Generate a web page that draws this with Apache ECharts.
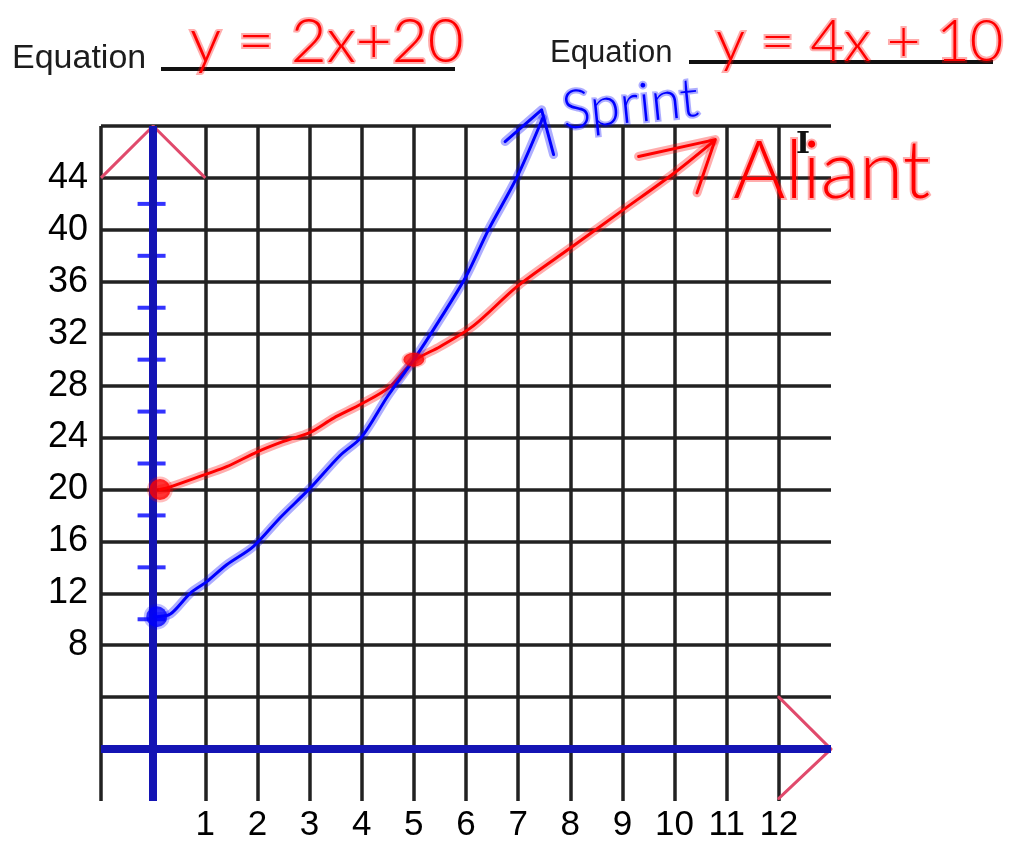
<!DOCTYPE html>
<html>
<head>
<meta charset="utf-8">
<title>Sprint vs Aliant</title>
<script src="https://cdn.jsdelivr.net/npm/echarts@6/dist/echarts.min.js"></script>
<style>
html, body { margin: 0; padding: 0; background: #fff; }
#main { width: 1010px; height: 843px; }
</style>
</head>
<body>
<div id="main"></div>
<script>
// tick labels
var xLabels = [1, 2, 3, 4, 5, 6, 7, 8, 9, 10, 11, 12];
var yLabels = [8, 12, 16, 20, 24, 28, 32, 36, 40, 44];
// little blue dashes drawn on the y axis
var dashY = [42, 38, 34, 30, 26, 22, 18, 14, 10];

// Sprint (blue, y = 4x + 10)
var sprintX = [0.07, 0.33, 0.71, 1.03, 1.41, 1.92, 2.43, 3.01, 3.58, 4, 4.5, 5, 5.5, 6, 6.43, 6.97, 7.47];
var sprintY = [10.2, 10.4, 12.0, 12.9, 14.2, 15.6, 17.8, 20.1, 22.6, 24.05, 27.2, 30, 33.1, 36.4, 40, 44, 48.6];
var sprintArrowX = [6.75, 7.45, 7.68];
var sprintArrowY = [46.8, 49.25, 45.8];

// Aliant (red, y = 2x + 20)
var aliantX = [0.13, 0.33, 1.03, 1.41, 2, 2.5, 3.01, 3.46, 4, 4.54, 5, 5.5, 6.14, 7, 8, 9, 10, 10.74];
var aliantY = [20, 20.2, 21.2, 21.75, 22.9, 23.7, 24.4, 25.5, 26.6, 27.9, 29.9, 31.0, 32.6, 35.7, 38.6, 41.5, 44.4, 46.8];
var aliantArrowX = [9.31, 10.78, 10.43];
var aliantArrowY = [45.65, 46.95, 42.85];

// start dots and the crossing dot
var sprintStart = [0.07, 10.2];
var aliantStart = [0.13, 20];
var crossPoint = [5, 30];

// pink chevrons at the ends of the axes
var yChevronX = [-1, 0, 1];
var yChevronY = [44, 48, 44];
var xChevronX = [12, 13, 12];
var xChevronY = [4, 0, -3.8];

function pairs(xs, ys) {
    return xs.map(function (x, i) { return [x, ys[i]]; });
}

var RED = '#ff0000';
var RED_HALO = 'rgba(255,0,0,0.32)';
var BLUE = '#0000ff';
var BLUE_HALO = 'rgba(0,0,255,0.32)';
var PINK = '#e04a6c';
var FONT = '"Liberation Sans", Arial, sans-serif';
var HAND = 'Lato, "Liberation Sans", sans-serif';

function stroke(name, data, color, width, z, smooth) {
    return {
        name: name,
        type: 'line',
        data: data,
        symbol: 'none',
        smooth: smooth || false,
        clip: false,
        silent: true,
        z: z,
        lineStyle: { color: color, width: width, cap: 'round', join: 'round' }
    };
}

var myChart = echarts.init(document.getElementById('main'));

var option = {
    backgroundColor: '#ffffff',
    animation: false,
    grid: { left: 101, top: 126, width: 730, height: 678 },
    xAxis: {
        type: 'value',
        min: -1,
        max: 13,
        interval: 1,
        axisLine: { show: false },
        axisTick: { show: false },
        axisLabel: {
            margin: 7,
            fontSize: 35,
            fontFamily: FONT,
            color: '#000',
            formatter: function (v) { return xLabels.indexOf(v) >= 0 ? String(v) : ''; }
        },
        splitLine: {
            show: true,
            showMaxLine: false,
            lineStyle: { color: '#222', width: 3.5 }
        }
    },
    yAxis: {
        type: 'value',
        min: -4,
        max: 48,
        interval: 4,
        axisLine: { show: false },
        axisTick: { show: false },
        axisLabel: {
            margin: 13,
            fontSize: 36,
            fontFamily: FONT,
            color: '#000',
            formatter: function (v) { return yLabels.indexOf(v) >= 0 ? String(v) : ''; }
        },
        splitLine: {
            show: true,
            showMinLine: false,
            lineStyle: { color: '#222', width: 3.5 }
        }
    },
    series: [
        // pink chevrons + the thick blue axes
        {
            type: 'line',
            data: pairs(yChevronX, yChevronY),
            symbol: 'none',
            clip: false,
            silent: true,
            z: 3,
            lineStyle: { color: PINK, width: 3 },
            markLine: {
                silent: true,
                symbol: 'none',
                label: { show: false },
                lineStyle: { color: '#1414b4', width: 8, type: 'solid', opacity: 1 },
                data: [{ xAxis: 0 }, { yAxis: 0 }]
            }
        },
        stroke('xChevron', pairs(xChevronX, xChevronY), PINK, 3, 3),
        // blue dashes on the y axis
        {
            type: 'scatter',
            data: dashY.map(function (y) { return [-0.03, y]; }),
            symbol: 'rect',
            symbolSize: [28, 4],
            silent: true,
            z: 4,
            itemStyle: { color: BLUE }
        },
        // Aliant halo + line
        stroke('aliantHalo', pairs(aliantX, aliantY), RED_HALO, 9, 5, 0.3),
        stroke('Aliant', pairs(aliantX, aliantY), RED, 3, 6, 0.3),
        stroke('aliantArrowHalo', pairs(aliantArrowX, aliantArrowY), RED_HALO, 9, 5),
        stroke('aliantArrow', pairs(aliantArrowX, aliantArrowY), RED, 3, 6),
        // Sprint halo + line
        stroke('sprintHalo', pairs(sprintX, sprintY), BLUE_HALO, 9, 7, 0.3),
        stroke('Sprint', pairs(sprintX, sprintY), BLUE, 3, 8, 0.3),
        stroke('sprintArrowHalo', pairs(sprintArrowX, sprintArrowY), BLUE_HALO, 9, 7),
        stroke('sprintArrow', pairs(sprintArrowX, sprintArrowY), BLUE, 3, 8),
        // dots
        {
            type: 'scatter',
            data: [aliantStart],
            symbol: 'circle',
            symbolSize: 21,
            silent: true,
            z: 9,
            itemStyle: { color: RED, borderColor: RED_HALO, borderWidth: 5 }
        },
        {
            type: 'scatter',
            data: [sprintStart],
            symbol: 'circle',
            symbolSize: 21,
            silent: true,
            z: 9,
            itemStyle: { color: BLUE, borderColor: BLUE_HALO, borderWidth: 5 }
        },
        {
            type: 'scatter',
            data: [crossPoint],
            symbol: 'circle',
            symbolSize: [21, 14],
            silent: true,
            z: 9,
            itemStyle: { color: RED, borderColor: RED_HALO, borderWidth: 3 }
        }
    ],
    graphic: [
        { type: 'text', left: 12, top: 42, style: { text: 'Equation', font: '34px ' + FONT, fill: '#1c1c1c' } },
        { type: 'line', shape: { x1: 161, y1: 69, x2: 455, y2: 69 }, style: { stroke: '#111', lineWidth: 4 } },
        { type: 'text', left: 550, top: 38, style: { text: 'Equation', font: '31px ' + FONT, fill: '#1c1c1c' } },
        { type: 'line', shape: { x1: 689, y1: 62, x2: 993, y2: 62 }, style: { stroke: '#111', lineWidth: 4 } },
        // the hand written parts
        {
            type: 'text', x: 190, y: 42, z: 20,
            style: { text: 'y = 2x+20', font: '300 62px ' + HAND, fill: RED, stroke: RED_HALO, lineWidth: 4, verticalAlign: 'middle' }
        },
        {
            type: 'text', x: 716, y: 42, z: 20,
            style: { text: 'y = 4x + 10', font: '300 58px ' + HAND, fill: RED, stroke: RED_HALO, lineWidth: 4, verticalAlign: 'middle' }
        },
        {
            type: 'text', x: 562, y: 112, rotation: 0.1, z: 20,
            style: { text: 'Sprint', font: '300 54px ' + HAND, fill: BLUE, stroke: BLUE_HALO, lineWidth: 4, verticalAlign: 'middle' }
        },
        {
            type: 'text', x: 733, y: 172, z: 20,
            style: { text: 'Aliant', font: '300 80px ' + HAND, fill: RED, stroke: RED_HALO, lineWidth: 4, verticalAlign: 'middle' }
        },
        {
            type: 'text', x: 796, y: 130, z: 20,
            style: { text: 'I', font: 'bold 30px "DejaVu Serif", serif', fill: '#111' }
        }
    ]
};

myChart.setOption(option);
</script>
</body>
</html>
